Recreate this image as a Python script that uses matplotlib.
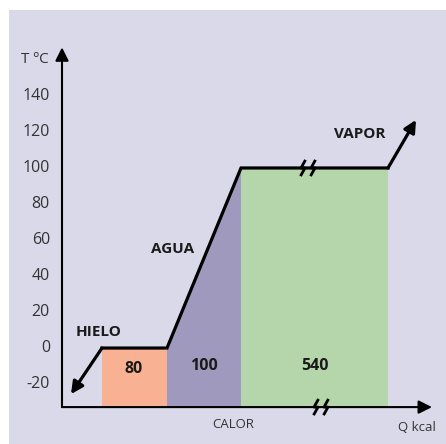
import matplotlib.pyplot as plt
from matplotlib.patches import Rectangle, Polygon

plt.rcParams['font.family'] = ['Open Sans', 'DejaVu Sans']

# heat (drawing units along the broken Q axis) and temperature
q_curve = [40, 105, 179, 326]
t_curve = [0, 0, 100, 100]
q_start, t_start = 9, -25.6      # ice tail arrow end
q_end, t_end = 354, 126.7        # vapor arrow end
t_ticks = [-20, 0, 20, 40, 60, 80, 100, 120, 140]
heat_labels = ['80', '100', '540']
phase_labels = ['HIELO', 'AGUA', 'VAPOR']

t_floor = -32.8
t_top = 167
q_right = 370

fig = plt.figure(figsize=(4.46, 4.44), dpi=100)
fig.patch.set_facecolor('white')
ax = fig.add_axes([0, 0, 1, 1])
ax.set_xlim(-62, 384)
ax.set_ylim(-53.3, 193.3)
ax.axis('off')
ax.add_patch(Rectangle((9/446, 0), 437/446, 434/444, transform=fig.transFigure,
                       facecolor='#dad9ea', edgecolor='none', zorder=0))

# coloured regions
ax.add_patch(Rectangle((q_curve[0], t_floor), q_curve[1]-q_curve[0], t_curve[1]-t_floor,
                       facecolor='#f8b193', edgecolor='none', zorder=1))
ax.add_patch(Polygon([(q_curve[1], t_floor), (q_curve[1], t_curve[1]),
                      (q_curve[2], t_curve[2]), (q_curve[2], t_floor)],
                     facecolor='#9f99bd', edgecolor='none', zorder=1))
ax.add_patch(Rectangle((q_curve[2], t_floor), q_curve[3]-q_curve[2], t_curve[3]-t_floor,
                       facecolor='#b5d6aa', edgecolor='none', zorder=1))

# heating curve
ax.plot(q_curve, t_curve, color='black', lw=2.3, solid_joinstyle='miter', zorder=3)
ax.annotate('', xy=(q_start, t_start), xytext=(q_curve[0], t_curve[0]),
            arrowprops=dict(arrowstyle='-|>', color='black', lw=2.3,
                            mutation_scale=18, shrinkA=0, shrinkB=0), zorder=3)
ax.annotate('', xy=(q_end, t_end), xytext=(q_curve[3], t_curve[3]),
            arrowprops=dict(arrowstyle='-|>', color='black', lw=2.3,
                            mutation_scale=18, shrinkA=0, shrinkB=0), zorder=3)

# axes with arrows
ax.annotate('', xy=(0, t_top), xytext=(0, t_floor),
            arrowprops=dict(arrowstyle='-|>', color='black', lw=1.5,
                            mutation_scale=20, shrinkA=0, shrinkB=0), zorder=4)
ax.annotate('', xy=(q_right, t_floor), xytext=(0, t_floor),
            arrowprops=dict(arrowstyle='-|>', color='black', lw=1.5,
                            mutation_scale=20, shrinkA=0, shrinkB=0), zorder=4)

# break marks
def brk(x, y):
    for dx in (0, 10):
        xs = [x+dx+3.5, x+dx-1, x+dx+3, x+dx-1.5]
        ys = [y+4.5, y, y, y-4.5]
        ax.plot(xs, ys, color='black', lw=2, zorder=5, solid_capstyle='butt')
brk(240, 100)
brk(253, t_floor)

# tick labels
for t in t_ticks:
    ax.text(-12, t, str(t), ha='right', va='center', fontsize=11.5, color='#333333')
ax.text(-13, 160, 'T ºC', ha='right', va='center', fontsize=11, color='#333333')
ax.text(171, -42.5, 'CALOR', ha='center', va='center', fontsize=9.5, color='#333333')
ax.text(374, -44, 'Q kcal', ha='right', va='center', fontsize=9.5, color='#333333')

# phase labels
ax.text(37, 8.9, phase_labels[0], ha='center', va='center', fontsize=11, fontweight='bold', color='#1a1a1a')
ax.text(111, 55, phase_labels[1], ha='center', va='center', fontsize=11, fontweight='bold', color='#1a1a1a')
ax.text(298, 119, phase_labels[2], ha='center', va='center', fontsize=11, fontweight='bold', color='#1a1a1a')

# heat amounts
ax.text(72, -11.4, heat_labels[0], ha='center', va='center', fontsize=11.5, fontweight='bold', color='#1a1a1a')
ax.text(142, -10, heat_labels[1], ha='center', va='center', fontsize=11.5, fontweight='bold', color='#1a1a1a')
ax.text(253, -10, heat_labels[2], ha='center', va='center', fontsize=11.5, fontweight='bold', color='#1a1a1a')

fig.savefig('out.png', dpi=100)
